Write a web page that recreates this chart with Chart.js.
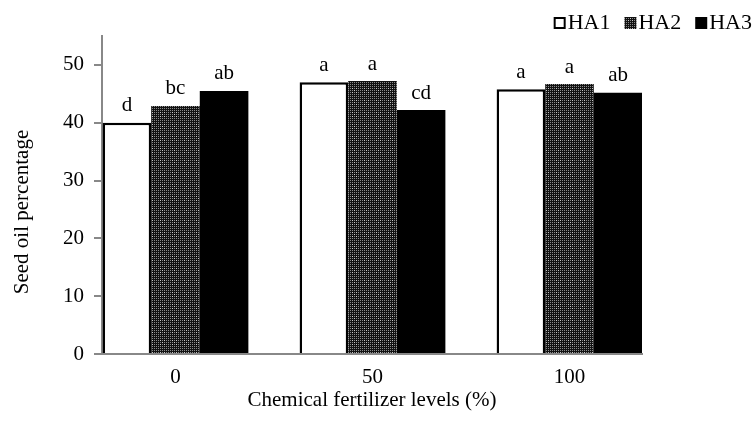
<!DOCTYPE html>
<html>
<head>
<meta charset="utf-8">
<script src="https://cdn.jsdelivr.net/npm/chart.js@4.4.1/dist/chart.umd.min.js"></script>
<style>
  html, body { margin: 0; padding: 0; background: #fff; }
</style>
</head>
<body>
<canvas id="oilChart" width="753" height="434"></canvas>
<script>
const levels = ["0", "50", "100"];
const ha1 = [40.0, 47.0, 45.8];
const ha2 = [42.9, 47.2, 46.7];
const ha3 = [45.5, 42.2, 45.2];
const letters = [
  ["d", "a", "a"],
  ["bc", "a", "a"],
  ["ab", "cd", "ab"]
];
const yTicks = [0, 10, 20, 30, 40, 50];
const yTitle = "Seed oil percentage";

const serif = "'Liberation Serif', 'Times New Roman', serif";

// dotted grid texture used by HA2
function makeGridPattern() {
  const c = document.createElement("canvas");
  c.width = 12;
  c.height = 12;
  const g = c.getContext("2d");
  g.fillStyle = "#111";
  g.fillRect(0, 0, 12, 12);
  g.fillStyle = "#8a8a8a";
  for (let x = 0; x < 12; x += 2) {
    for (let y = 0; y < 12; y += 2) {
      g.fillRect(x, y, 1, 1);
    }
  }
  g.fillStyle = "#c8c8c8";
  [[4, 4], [6, 6], [8, 8], [8, 4], [4, 8]].forEach(p => g.fillRect(p[0], p[1], 1, 1));
  return g.createPattern(c, "repeat");
}

const ctx = document.getElementById("oilChart").getContext("2d");
const gridPattern = makeGridPattern();

const points = arr => arr.map((v, i) => ({ x: i, y: v }));

const letterPlugin = {
  id: "letters",
  afterDatasetsDraw(chart) {
    const c = chart.ctx;
    c.save();
    c.font = "21px " + serif;
    c.fillStyle = "#000";
    c.textAlign = "center";
    c.textBaseline = "middle";
    chart.data.datasets.forEach((ds, i) => {
      chart.getDatasetMeta(i).data.forEach((bar, j) => {
        c.fillText(letters[i][j], bar.x, bar.y - 17);
      });
    });
    c.restore();
  }
};

// y title sits a bit below the axis middle in the original
const yTitlePlugin = {
  id: "yTitle",
  afterDraw(chart) {
    const c = chart.ctx;
    c.save();
    c.font = "21px " + serif;
    c.fillStyle = "#000";
    c.textAlign = "center";
    c.textBaseline = "middle";
    c.translate(22, 212);
    c.rotate(-Math.PI / 2);
    c.fillText(yTitle, 0, 0);
    c.restore();
  }
};

const legendPlugin = {
  id: "boxLegend",
  afterDraw(chart) {
    const c = chart.ctx;
    c.save();
    c.font = "22px " + serif;
    c.textBaseline = "middle";
    c.textAlign = "left";
    let x = 752;
    const y = 23;
    const items = chart.data.datasets.slice().reverse();
    items.forEach(ds => {
      const w = c.measureText(ds.label).width;
      x -= w;
      c.fillStyle = "#000";
      c.fillText(ds.label, x, y);
      x -= 14;
      c.fillStyle = ds.backgroundColor;
      c.fillRect(x, y - 6, 12, 12);
      if (ds.borderWidth) {
        c.strokeStyle = ds.borderColor;
        c.lineWidth = 2;
        c.strokeRect(x + 1, y - 5, 10, 10);
      }
      x -= 14;
    });
    c.restore();
  }
};

new Chart(ctx, {
  type: "bar",
  data: {
    datasets: [
      {
        label: "HA1",
        data: points(ha1),
        backgroundColor: "#ffffff",
        borderColor: "#000000",
        borderWidth: 2.5
      },
      {
        label: "HA2",
        data: points(ha2),
        backgroundColor: gridPattern,
        borderWidth: 0
      },
      {
        label: "HA3",
        data: points(ha3),
        backgroundColor: "#000000",
        borderWidth: 0
      }
    ]
  },
  options: {
    responsive: false,
    animation: false,
    categoryPercentage: 0.74,
    barPercentage: 1.0,
    layout: { padding: { top: 36, right: 111, left: 0, bottom: 0 } },
    plugins: {
      legend: { display: false },
      tooltip: { enabled: false }
    },
    scales: {
      x: {
        type: "linear",
        offset: false,
        min: -0.373,
        max: 2.368,
        afterBuildTicks(scale) {
          scale.ticks = levels.map((l, i) => ({ value: i }));
        },
        afterFit(scale) { scale.height = 80; },
        ticks: {
          callback: v => levels[v],
          font: { family: serif, size: 21 },
          color: "#000",
          padding: 3
        },
        grid: { display: false },
        border: { display: true, color: "#888", width: 2 },
        title: {
          display: true,
          text: "Chemical fertilizer levels (%)",
          font: { family: serif, size: 21 },
          color: "#000",
          padding: { top: 0, bottom: 21 }
        }
      },
      y: {
        min: 0,
        max: 55,
        afterBuildTicks(scale) {
          scale.ticks = yTicks.map(v => ({ value: v }));
        },
        afterFit(scale) { scale.width = 102; },
        ticks: {
          font: { family: serif, size: 21 },
          color: "#000",
          padding: 10
        },
        grid: {
          drawOnChartArea: false,
          drawTicks: true,
          tickLength: 8,
          color: "#888",
          lineWidth: 2
        },
        border: { display: true, color: "#888", width: 2 },
        title: { display: false }
      }
    }
  },
  plugins: [letterPlugin, yTitlePlugin, legendPlugin]
});
</script>
</body>
</html>
